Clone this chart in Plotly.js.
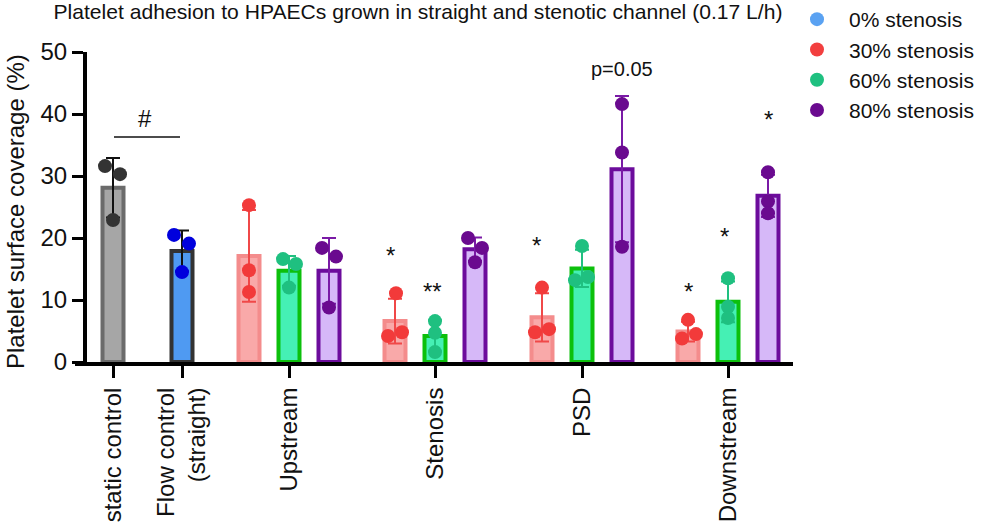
<!DOCTYPE html>
<html>
<head>
<meta charset="utf-8">
<script src="https://cdn.plot.ly/plotly-3.0.1.min.js"></script>
<style>html,body{margin:0;padding:0;background:#fff;}#chart{width:981px;height:526px;}</style>
</head>
<body>
<div id="chart"></div>
<script>
// ---- data ----
const categories = ['static control', 'Flow control<br>(straight)', 'Upstream', 'Stenosis', 'PSD', 'Downstream'];
const seriesNames = ['0% stenosis', '30% stenosis', '60% stenosis', '80% stenosis'];

const controlMeans = [28.1, 17.9];
const controlSD = [4.8, 3.3];
const controlPoints = [[31.6, 30.3, 22.9], [20.5, 19.1, 14.5]];

const s30Means = [17.1, 6.6, 7.2, 4.9];
const s30SD = [7.4, 3.6, 3.9, 1.6];
const s30Points = [[25.3, 14.8, 11.3], [11.1, 4.2, 4.8], [12.0, 4.8, 5.3], [6.8, 3.8, 4.5]];

const s60Means = [14.7, 4.2, 15.1, 9.7];
const s60SD = [2.4, 2.5, 3.0, 3.3];
const s60Points = [[16.6, 15.8, 12.0], [6.6, 4.7, 1.6], [18.7, 13.2, 13.7], [13.5, 8.9, 7.1]];

const s80Means = [14.7, 18.2, 31.1, 26.8];
const s80SD = [5.3, 1.9, 11.8, 3.4];
const s80Points = [[18.4, 17.0, 8.8], [20.0, 18.4, 16.1], [41.6, 33.8, 18.6], [30.6, 25.9, 24.0]];

const sigLabels = ['#', '*', '**', '*', 'p=0.05', '*', '*', '*'];
const sigValues = [39.3, 17.2, 11.3, 18.8, 47.2, 11.3, 20.2, 39.1];

// ---- layout (positions on a horizontal scale) ----
const FONT = 'Arial, "Liberation Sans", sans-serif';
const controlX = [113, 182];
const tripleCenter = [289, 435, 582, 728];
const off = 40;
const barW = 21;
const jitterControl = [[-8, 7, 0], [-8, 7, 0]];
const jitter30 = [[0, 0, 0], [1, -7, 7], [0, -7, 7], [0, -6, 8]];
const jitter60 = [[-6, 7, 0], [0, 0, 0], [0, -7, 6], [0, 0, 0]];
const jitter80 = [[-7, 7, 0], [-7, 7, 0], [0, 0, 0], [0, 0, 0]];
const sigX = [145, 390, 432, 536, 622, 688, 724, 768];

const traces = [];
function addBars(xs, means, sd, fill, line, errColor) {
  traces.push({
    type: 'bar', x: xs, y: means, width: xs.map(() => barW),
    marker: { color: fill, line: { color: line, width: 4 } },
    error_y: { type: 'data', array: sd, visible: true, color: errColor, thickness: 2, width: 7 },
    showlegend: false, hoverinfo: 'skip'
  });
}
function addPoints(xs, pts, jit, color) {
  const px = [], py = [], pc = [];
  pts.forEach((arr, i) => arr.forEach((v, j) => {
    px.push(xs[i] + jit[i][j]); py.push(v);
    pc.push(Array.isArray(color) ? color[i] : color);
  }));
  traces.push({ type: 'scatter', mode: 'markers', x: px, y: py,
    marker: { size: 14, color: pc }, showlegend: false, hoverinfo: 'skip', cliponaxis: false });
}

// controls (two bars with their own colours)
traces.push({
  type: 'bar', x: controlX, y: controlMeans, width: [barW, barW],
  marker: { color: ['#a6a6a6', '#4f9af2'], line: { color: ['#6b6b6b', '#333333'], width: 4 } },
  error_y: { type: 'data', array: controlSD, visible: true, color: '#111111', thickness: 2, width: 7 },
  showlegend: false, hoverinfo: 'skip'
});
const x30 = tripleCenter.map(c => c - off);
const x60 = tripleCenter.slice();
const x80 = tripleCenter.map(c => c + off);
addBars(x30, s30Means, s30SD, '#f9a9a9', '#f48c8c', '#f04848');
addBars(x60, s60Means, s60SD, '#45f0b4', '#0cc00c', '#20c080');
addBars(x80, s80Means, s80SD, '#d6b8f8', '#6c0c9c', '#7a1aa6');

addPoints(controlX, controlPoints, jitterControl, ['#333333', '#0000dd']);
addPoints(x30, s30Points, jitter30, '#f23a3a');
addPoints(x60, s60Points, jitter60, '#1fc080');
addPoints(x80, s80Points, jitter80, '#6a0a8f');

// legend-only traces
const legendColors = ['#5aa2f2', '#f23f3f', '#1fc080', '#6a0a8f'];
seriesNames.forEach((n, i) => {
  traces.push({ type: 'scatter', mode: 'markers', x: [null], y: [null], name: n,
    legendgroup: 'g' + i, marker: { size: 14, color: legendColors[i] }, hoverinfo: 'skip' });
});

const annotations = sigLabels.map((t, i) => ({
  x: sigX[i], y: sigValues[i], xref: 'x', yref: 'y', text: t, showarrow: false,
  xanchor: 'center', yanchor: 'middle',
  font: { family: FONT, size: t === 'p=0.05' ? 20 : 24, color: '#111111' }
}));
annotations.push({
  xref: 'paper', yref: 'paper', x: (15 - 75) / 718, y: (362 - 212) / 310,
  text: 'Platelet surface coverage (%)', textangle: -90, showarrow: false,
  xanchor: 'center', yanchor: 'middle', font: { family: FONT, size: 24, color: '#111111' }
});

const tickVals = [controlX[0], controlX[1]].concat(tripleCenter);

const layout = {
  width: 981, height: 526,
  margin: { l: 75, r: 188, t: 52, b: 164, autoexpand: false },
  paper_bgcolor: '#ffffff', plot_bgcolor: '#ffffff',
  font: { family: FONT, color: '#111111' },
  title: { text: 'Platelet adhesion to HPAECs grown in straight and stenotic channel (0.17 L/h)',
    x: 418 / 981, xanchor: 'center', y: 1 - 12 / 526, yanchor: 'middle',
    font: { family: FONT, size: 21.1, color: '#111111' } },
  barmode: 'overlay',
  xaxis: {
    range: [75, 793], showgrid: false, zeroline: false,
    showline: true, linecolor: '#000000', linewidth: 4,
    ticks: 'outside', ticklen: 12, tickwidth: 3, tickcolor: '#000000',
    tickmode: 'array', tickvals: tickVals, ticktext: categories, tickangle: -90,
    tickfont: { family: FONT, size: 24, color: '#111111' }, fixedrange: true
  },
  yaxis: {
    range: [0, 50], anchor: 'free', position: 10 / 718,
    showgrid: false, zeroline: false,
    showline: true, linecolor: '#000000', linewidth: 4,
    ticks: 'outside', ticklen: 11, tickwidth: 3, tickcolor: '#000000',
    tickmode: 'array', tickvals: [0, 10, 20, 30, 40, 50],
    tickfont: { family: FONT, size: 24, color: '#111111' }, fixedrange: true
  },
  legend: {
    x: (785 - 75) / 718, xanchor: 'left', y: (362 + 1) / 310, yanchor: 'top',
    font: { family: FONT, size: 21, color: '#111111' },
    tracegroupgap: 0, itemwidth: 54, bgcolor: 'rgba(0,0,0,0)'
  },
  shapes: [{ type: 'line', xref: 'x', yref: 'y', x0: 114, x1: 180, y0: 36.3, y1: 36.3,
    line: { color: '#111111', width: 1.5 } }],
  annotations: annotations,
  showlegend: true
};

Plotly.newPlot('chart', traces, layout, { displayModeBar: false, staticPlot: true });
</script>
</body>
</html>
